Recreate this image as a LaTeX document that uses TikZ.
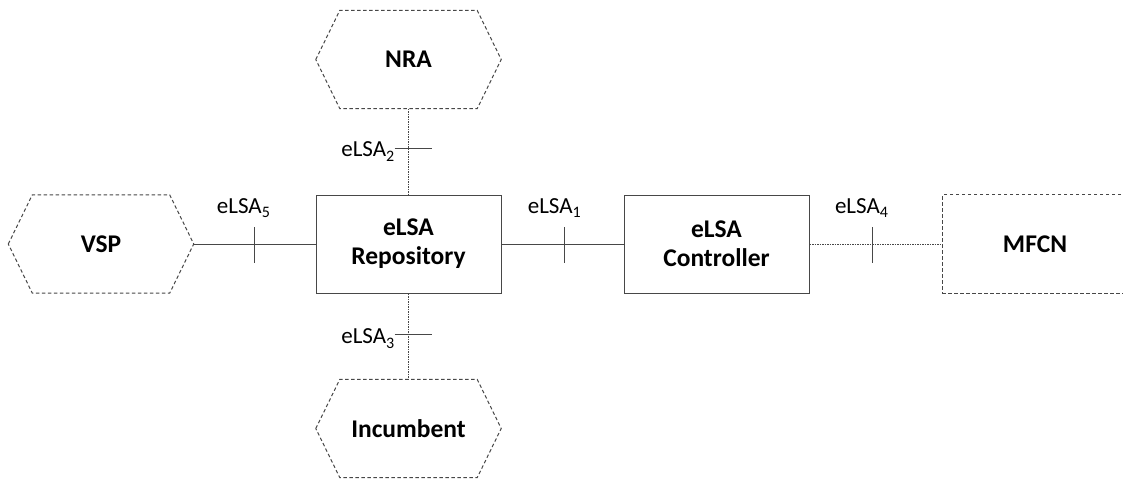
\documentclass[tikz,border=0pt]{standalone}
\usepackage{fontspec}
\setmainfont{Carlito}
\newcommand{\lsub}[1]{\raisebox{-4.5pt}{\fontsize{16}{16}\selectfont #1}}
\begin{document}
\begin{tikzpicture}[x=1pt,y=-1pt,
  linecol/.style={draw=black!72},
  solidline/.style={linecol, line width=1pt},
  dotline/.style={linecol, line width=0.9pt, dash pattern=on 1.5pt off 1pt},
  dashline/.style={linecol, line width=1pt, dash pattern=on 3.5pt off 2.5pt},
  ent/.style={minimum width=185pt, minimum height=98pt, inner sep=0pt, align=center,
    font=\fontsize{25.5}{29}\selectfont\bfseries},
  boxent/.style={ent, draw=black!72, line width=1pt},
  lbl/.style={font=\fontsize{23}{25}\selectfont, inner sep=0pt, anchor=base east},
  tickline/.style={solidline}
]
\useasboundingbox (0,0) rectangle (1123,479);

% entities
\node[ent] (nra) at (408.5,59.5) {NRA};
\node[ent] (vsp) at (101,244) {VSP};
\node[ent] (inc) at (408.5,428.5) {Incumbent};
\node[boxent] (repo) at (408.5,244) {eLSA\\Repository};
\node[boxent, minimum width=185pt] (ctrl) at (716.5,244) {eLSA\\Controller};
\node[ent, minimum width=184pt] (mfcn) at (1035,244) {MFCN};

% hexagons
\foreach \h in {nra,vsp,inc}{
  \draw[dashline] (\h.west) -- ([xshift=24pt]\h.north west) -- ([xshift=-24pt]\h.north east)
    -- (\h.east) -- ([xshift=-24pt]\h.south east) -- ([xshift=24pt]\h.south west) -- cycle;
}
% MFCN dashed rectangle
\draw[dashline] (mfcn.north east) -- (mfcn.north west) -- (mfcn.south west) -- (mfcn.south east);

% connectors
\draw[solidline] (vsp.east) -- coordinate[pos=0.496] (t5) (repo.west);
\draw[solidline] (repo.east) -- coordinate[pos=0.52] (t1) (ctrl.west);
\draw[dotline] (ctrl.east) -- coordinate[pos=0.47] (t4) (mfcn.west);
\draw[dotline] (nra.south) -- coordinate[pos=0.465] (t2) (repo.north);
\draw[dotline] (repo.south) -- coordinate[pos=0.48] (t3) (inc.north);

% ticks
\foreach \t in {t5,t1,t4}{
  \draw[tickline] ([yshift=17pt]\t) -- ([yshift=-19pt]\t);
}
\foreach \t in {t2,t3}{
  \draw[tickline] ([xshift=-14pt]\t) -- ([xshift=23pt]\t);
}

% labels
\node[lbl] (l5) at ([xshift=16pt,yshift=31pt]t5) {eLSA\lsub{5}};
\node[lbl] (l1) at ([xshift=16pt,yshift=31pt]t1) {eLSA\lsub{1}};
\node[lbl] (l4) at ([xshift=16pt,yshift=31pt]t4) {eLSA\lsub{4}};
\node[lbl] (l2) at ([xshift=-14pt,yshift=-8pt]t2) {eLSA\lsub{2}};
\node[lbl] (l3) at ([xshift=-14pt,yshift=-9pt]t3) {eLSA\lsub{3}};
\end{tikzpicture}
\end{document}
